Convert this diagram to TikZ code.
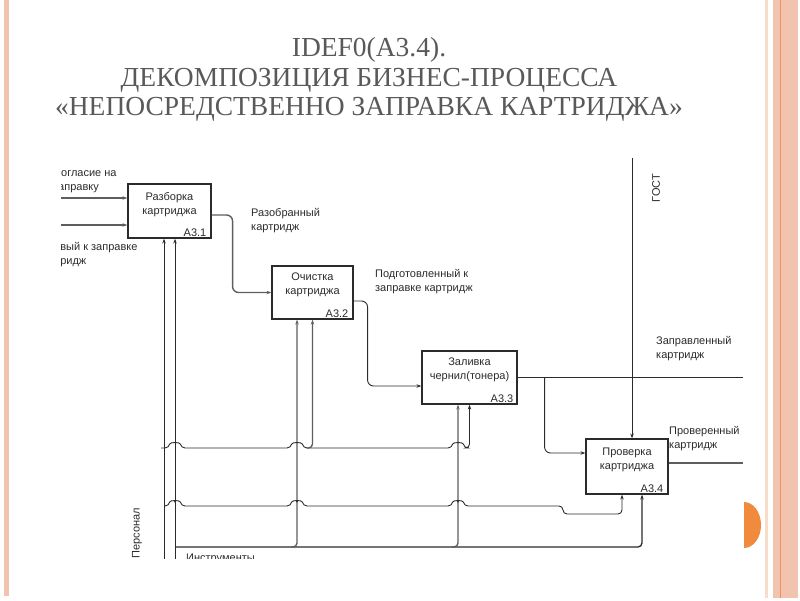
\documentclass[tikz,border=0pt]{standalone}
\usepackage{fontspec}
\setmainfont{Liberation Sans}
\newfontfamily\titlefont{Liberation Serif}
\usetikzlibrary{arrows.meta}
\definecolor{ttl}{HTML}{595959}
\definecolor{ink}{HTML}{2B2B2B}
\definecolor{gink}{HTML}{5E5E5E}
\definecolor{salmon}{HTML}{F2C3AE}
\definecolor{peach}{HTML}{F8DCCB}
\definecolor{orng}{HTML}{F08A3C}
\definecolor{oline}{HTML}{EE8F62}
\begin{document}
\begin{tikzpicture}[x=1pt,y=-1pt,
  box/.style={draw=ink,line width=1.1pt,inner sep=0pt},
  txt/.style={font=\fontsize{11}{14}\selectfont,text=ink,align=center,inner sep=0pt},
  lbl/.style={font=\fontsize{11}{14}\selectfont,text=ink,align=left,inner sep=0pt,anchor=west},
  num/.style={font=\fontsize{11}{14}\selectfont,text=ink,inner sep=0pt,anchor=base east},
  arr/.style={-{Stealth[length=5pt,width=3.4pt]}},
  ln/.style={draw=ink,line width=0.9pt},
  gln/.style={draw=gink,line width=1.4pt}]
\useasboundingbox (0,0) rectangle (800,600);
% slide decoration
\fill[salmon] (4,0) rectangle (9,596);
\fill[peach] (765,0) rectangle (768,598);
\fill[salmon] (773,0) rectangle (798,598);
\draw[oline,line width=0.8pt] (780,0) -- (780,598);
\begin{scope}
  \clip (744,490) rectangle (770,560);
  \fill[orng] (744,525) ellipse [x radius=17, y radius=23];
\end{scope}
% title
\node[font=\titlefont\fontsize{27.5}{29.5}\selectfont,text=ttl,align=center,inner sep=0pt] (title) at (369,79.5)
  {IDEF0(A3.4).\\ДЕКОМПОЗИЦИЯ БИЗНЕС-ПРОЦЕССА\\«НЕПОСРЕДСТВЕННО ЗАПРАВКА КАРТРИДЖА»};

\begin{scope}
\clip (61,140) rectangle (765,558);
% boxes
\node[box,minimum width=83pt,minimum height=54pt] (a1) at (169.5,211) {};
\node[box,minimum width=81pt,minimum height=53pt] (a2) at (312.5,292.5) {};
\node[box,minimum width=95pt,minimum height=53pt] (a3) at (469.5,377.5) {};
\node[box,minimum width=82pt,minimum height=55pt] (a4) at (627,466.5) {};
\node[txt] (a1t) at ([yshift=6pt]a1.center) {Разборка\\картриджа};
\node[txt] (a2t) at ([yshift=7.5pt]a2.center) {Очистка\\картриджа};
\node[txt] (a3t) at ([yshift=7.5pt]a3.center) {Заливка\\чернил(тонера)};
\node[txt] (a4t) at ([yshift=6.5pt]a4.center) {Проверка\\картриджа};
\node[num] (a1n) at ([shift={(-5pt,2.5pt)}]a1.south east) {А3.1};
\node[num] (a2n) at ([shift={(-5pt,2.5pt)}]a2.south east) {А3.2};
\node[num] (a3n) at ([shift={(-4pt,2.5pt)}]a3.south east) {А3.3};
\node[num] (a4n) at ([shift={(-5pt,2.5pt)}]a4.south east) {А3.4};
% arrow labels
\node[lbl] (l1) at (53,181) {Согласие на\\заправку};
\node[lbl] (l2) at (38,254.5) {Готовый к заправке\\картридж};
\node[lbl] (l3) at (251,221) {Разобранный\\картридж};
\node[lbl] (l4) at (375,281.5) {Подготовленный к\\заправке картридж};
\node[lbl] (l5) at (656,348.5) {Заправленный\\картридж};
\node[lbl] (l6) at (669,439) {Проверенный\\картридж};
\node[txt,rotate=90] (l7) at (656,188) {ГОСТ};
\node[txt,rotate=90] (l8) at (137,533) {Персонал};
\node[lbl] (l9) at (186,559) {Инструменты};
% coordinates
\coordinate (i1) at (40,198);
\coordinate (i2) at (40,225);
\coordinate (o3) at (743,377.5);
\coordinate (o4) at (743,463);
\coordinate (g) at (632,158);
\coordinate (m1a) at ([xshift=-5.5pt]a1.south);
\coordinate (m1b) at ([xshift=5.5pt]a1.south);
\coordinate (m2a) at ([xshift=-15.5pt]a2.south);
\coordinate (m2b) at (a2.south);
\coordinate (m3a) at ([xshift=-11.5pt]a3.south);
\coordinate (m3b) at (a3.south);
\coordinate (m4a) at ([xshift=-5pt]a4.south);
\coordinate (m4b) at ([xshift=15pt]a4.south);
\coordinate (bot) at (0,562);
\coordinate (L1) at (0,448);
\coordinate (L2) at (0,506);
\coordinate (L3) at (0,547);
\coordinate (L1s) at (161,448);
% inputs
\draw[gln,arr] (i1) -- (i1 -| a1.west);
\draw[gln,arr] (i2) -- (i2 -| a1.west);
% flows between boxes
\draw[gln,arr,rounded corners=6pt] ([yshift=-4pt]a1.east) -- ++(21,0) |- (a2.west);
\draw[ln,arr,rounded corners=6pt] ([yshift=-8.5pt]a2.east) -- ++(14,0) |- ([yshift=-8.5pt]a3.west);
\draw[ln] (a3.east) -- (o3);
\draw[ln,arr,rounded corners=6pt] ([xshift=27pt]a3.east) |- ([yshift=13.5pt]a4.west);
\draw[gln] ([yshift=3.5pt]a4.east) -- (o4);
\draw[ln,arr] (g) -- (g |- a4.north);
% mechanisms
\draw[ln,arr] (m1a |- bot) -- (m1a);
\draw[ln,arr] (m1b |- bot) -- (m1b);
\draw[draw=ink,line width=1.3pt,arr,rounded corners=4pt] (m1b |- L3) -| (m4b);
\draw[gln,arr,rounded corners=4pt] ([xshift=-6pt]m2a |- L3) -| (m2a);
\draw[gln,arr,rounded corners=4pt] ([xshift=-6pt]m3a |- L3) -| (m3a);
\draw[ln,arr,rounded corners=4pt] (L1s) -- (169,448) .. controls (170,442) and (180,442) .. (181,448)
  -- (291,448) .. controls (292,442) and (302,442) .. (303,448)
  -- (452,448) .. controls (453,442) and (463,442) .. (464,448) -| (m3b);
\draw[gln,arr,rounded corners=4pt] ([xshift=-6pt]m2b |- L1) -| (m2b);
\draw[ln,arr,rounded corners=4pt] (m1a |- L2) -- (169,506) .. controls (170,500) and (180,500) .. (181,506)
  -- (291,506) .. controls (292,500) and (302,500) .. (303,506)
  -- (452,506) .. controls (453,500) and (463,500) .. (464,506)
  -- (563,506) -- (563,514) -| (m4a);
\fill[ink] (175,501.5) circle (1pt) (297,501.5) circle (1pt) (458,501.5) circle (1pt);
\end{scope}
\end{tikzpicture}
\end{document}
